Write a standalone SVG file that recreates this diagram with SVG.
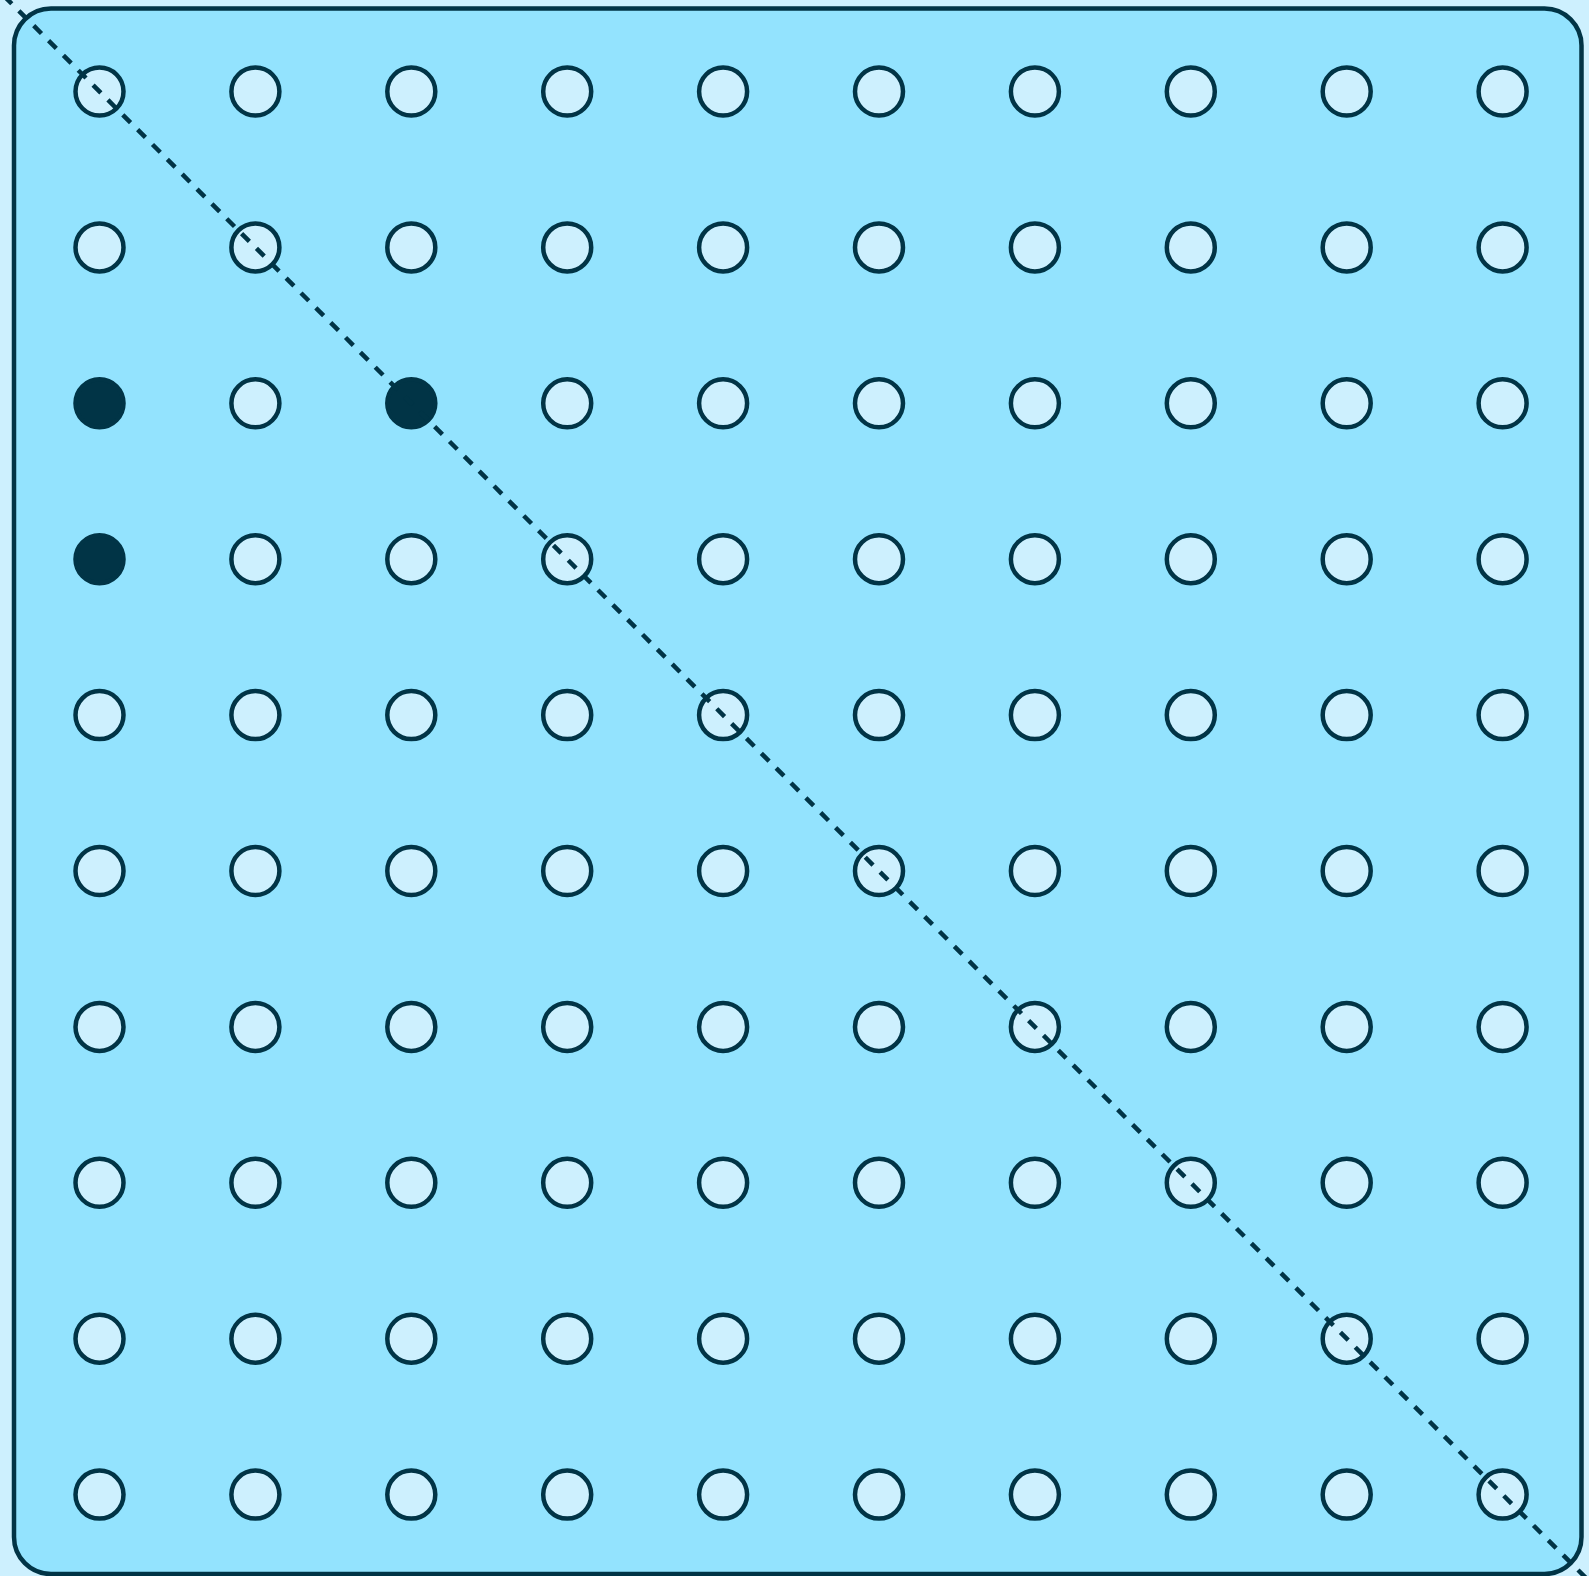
<svg xmlns="http://www.w3.org/2000/svg" width="1589" height="1576" viewBox="0 0 1589 1576">
<style>
.peg{fill:#cdf0fe;stroke:#013446;stroke-width:4.5}
.on{fill:#013446;stroke:#013446;stroke-width:4.5}
.diag{stroke:#013446;stroke-width:4.5;stroke-dasharray:11 10;fill:none}
</style>
<rect x="0" y="0" width="1589" height="1576" fill="#cdf0fe"/>
<rect id="board" x="14" y="8.5" width="1567.5" height="1565.5" rx="37" ry="37" fill="#93e3fe" stroke="#013446" stroke-width="4.5"/>
<g id="pegs">
<g id="row0"><circle class="peg" cx="99.5" cy="91.5" r="24"/><circle class="peg" cx="255.4" cy="91.5" r="24"/><circle class="peg" cx="411.3" cy="91.5" r="24"/><circle class="peg" cx="567.2" cy="91.5" r="24"/><circle class="peg" cx="723.1" cy="91.5" r="24"/><circle class="peg" cx="879" cy="91.5" r="24"/><circle class="peg" cx="1034.9" cy="91.5" r="24"/><circle class="peg" cx="1190.8" cy="91.5" r="24"/><circle class="peg" cx="1346.7" cy="91.5" r="24"/><circle class="peg" cx="1502.6" cy="91.5" r="24"/></g>
<g id="row1"><circle class="peg" cx="99.5" cy="247.4" r="24"/><circle class="peg" cx="255.4" cy="247.4" r="24"/><circle class="peg" cx="411.3" cy="247.4" r="24"/><circle class="peg" cx="567.2" cy="247.4" r="24"/><circle class="peg" cx="723.1" cy="247.4" r="24"/><circle class="peg" cx="879" cy="247.4" r="24"/><circle class="peg" cx="1034.9" cy="247.4" r="24"/><circle class="peg" cx="1190.8" cy="247.4" r="24"/><circle class="peg" cx="1346.7" cy="247.4" r="24"/><circle class="peg" cx="1502.6" cy="247.4" r="24"/></g>
<g id="row2"><circle class="on" cx="99.5" cy="403.3" r="24"/><circle class="peg" cx="255.4" cy="403.3" r="24"/><circle class="on" cx="411.3" cy="403.3" r="24"/><circle class="peg" cx="567.2" cy="403.3" r="24"/><circle class="peg" cx="723.1" cy="403.3" r="24"/><circle class="peg" cx="879" cy="403.3" r="24"/><circle class="peg" cx="1034.9" cy="403.3" r="24"/><circle class="peg" cx="1190.8" cy="403.3" r="24"/><circle class="peg" cx="1346.7" cy="403.3" r="24"/><circle class="peg" cx="1502.6" cy="403.3" r="24"/></g>
<g id="row3"><circle class="on" cx="99.5" cy="559.2" r="24"/><circle class="peg" cx="255.4" cy="559.2" r="24"/><circle class="peg" cx="411.3" cy="559.2" r="24"/><circle class="peg" cx="567.2" cy="559.2" r="24"/><circle class="peg" cx="723.1" cy="559.2" r="24"/><circle class="peg" cx="879" cy="559.2" r="24"/><circle class="peg" cx="1034.9" cy="559.2" r="24"/><circle class="peg" cx="1190.8" cy="559.2" r="24"/><circle class="peg" cx="1346.7" cy="559.2" r="24"/><circle class="peg" cx="1502.6" cy="559.2" r="24"/></g>
<g id="row4"><circle class="peg" cx="99.5" cy="715.1" r="24"/><circle class="peg" cx="255.4" cy="715.1" r="24"/><circle class="peg" cx="411.3" cy="715.1" r="24"/><circle class="peg" cx="567.2" cy="715.1" r="24"/><circle class="peg" cx="723.1" cy="715.1" r="24"/><circle class="peg" cx="879" cy="715.1" r="24"/><circle class="peg" cx="1034.9" cy="715.1" r="24"/><circle class="peg" cx="1190.8" cy="715.1" r="24"/><circle class="peg" cx="1346.7" cy="715.1" r="24"/><circle class="peg" cx="1502.6" cy="715.1" r="24"/></g>
<g id="row5"><circle class="peg" cx="99.5" cy="871" r="24"/><circle class="peg" cx="255.4" cy="871" r="24"/><circle class="peg" cx="411.3" cy="871" r="24"/><circle class="peg" cx="567.2" cy="871" r="24"/><circle class="peg" cx="723.1" cy="871" r="24"/><circle class="peg" cx="879" cy="871" r="24"/><circle class="peg" cx="1034.9" cy="871" r="24"/><circle class="peg" cx="1190.8" cy="871" r="24"/><circle class="peg" cx="1346.7" cy="871" r="24"/><circle class="peg" cx="1502.6" cy="871" r="24"/></g>
<g id="row6"><circle class="peg" cx="99.5" cy="1026.9" r="24"/><circle class="peg" cx="255.4" cy="1026.9" r="24"/><circle class="peg" cx="411.3" cy="1026.9" r="24"/><circle class="peg" cx="567.2" cy="1026.9" r="24"/><circle class="peg" cx="723.1" cy="1026.9" r="24"/><circle class="peg" cx="879" cy="1026.9" r="24"/><circle class="peg" cx="1034.9" cy="1026.9" r="24"/><circle class="peg" cx="1190.8" cy="1026.9" r="24"/><circle class="peg" cx="1346.7" cy="1026.9" r="24"/><circle class="peg" cx="1502.6" cy="1026.9" r="24"/></g>
<g id="row7"><circle class="peg" cx="99.5" cy="1182.8" r="24"/><circle class="peg" cx="255.4" cy="1182.8" r="24"/><circle class="peg" cx="411.3" cy="1182.8" r="24"/><circle class="peg" cx="567.2" cy="1182.8" r="24"/><circle class="peg" cx="723.1" cy="1182.8" r="24"/><circle class="peg" cx="879" cy="1182.8" r="24"/><circle class="peg" cx="1034.9" cy="1182.8" r="24"/><circle class="peg" cx="1190.8" cy="1182.8" r="24"/><circle class="peg" cx="1346.7" cy="1182.8" r="24"/><circle class="peg" cx="1502.6" cy="1182.8" r="24"/></g>
<g id="row8"><circle class="peg" cx="99.5" cy="1338.7" r="24"/><circle class="peg" cx="255.4" cy="1338.7" r="24"/><circle class="peg" cx="411.3" cy="1338.7" r="24"/><circle class="peg" cx="567.2" cy="1338.7" r="24"/><circle class="peg" cx="723.1" cy="1338.7" r="24"/><circle class="peg" cx="879" cy="1338.7" r="24"/><circle class="peg" cx="1034.9" cy="1338.7" r="24"/><circle class="peg" cx="1190.8" cy="1338.7" r="24"/><circle class="peg" cx="1346.7" cy="1338.7" r="24"/><circle class="peg" cx="1502.6" cy="1338.7" r="24"/></g>
<g id="row9"><circle class="peg" cx="99.5" cy="1494.6" r="24"/><circle class="peg" cx="255.4" cy="1494.6" r="24"/><circle class="peg" cx="411.3" cy="1494.6" r="24"/><circle class="peg" cx="567.2" cy="1494.6" r="24"/><circle class="peg" cx="723.1" cy="1494.6" r="24"/><circle class="peg" cx="879" cy="1494.6" r="24"/><circle class="peg" cx="1034.9" cy="1494.6" r="24"/><circle class="peg" cx="1190.8" cy="1494.6" r="24"/><circle class="peg" cx="1346.7" cy="1494.6" r="24"/><circle class="peg" cx="1502.6" cy="1494.6" r="24"/></g>
</g>
<g id="connectors">
<line class="diag" x1="4" y1="-4" x2="1590" y2="1582"/>
</g>
</svg>
